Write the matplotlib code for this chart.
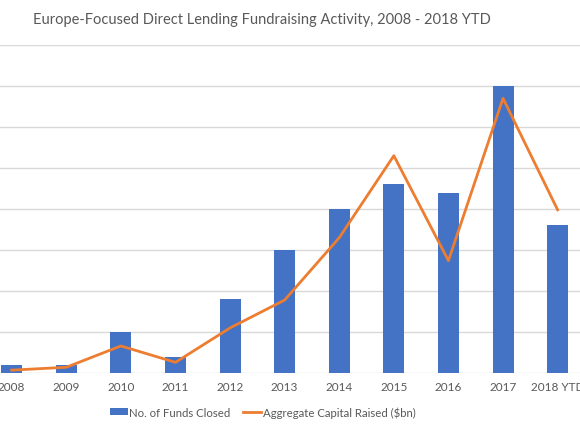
import numpy as np
import matplotlib
matplotlib.use("Agg")
import matplotlib.pyplot as plt

plt.rcParams["font.family"] = ["Lato", "DejaVu Sans"]

years = ["2008", "2009", "2010", "2011", "2012", "2013", "2014",
         "2015", "2016", "2017", "2018 YTD"]
funds_closed = [1, 1, 5, 2, 9, 15, 20, 23, 22, 35, 18]
capital_raised = [0.35, 0.7, 3.3, 1.3, 5.5, 8.9, 16.5, 26.5, 13.7, 33.5, 19.9]

BLUE = "#4472C4"
ORANGE = "#ED7D31"
GREY = "#595959"
GRID = "#D9D9D9"

fig = plt.figure(figsize=(5.8, 4.35), dpi=100)
ax = fig.add_axes([0.0, 0.1402, 1.0, 0.7540])

x = np.arange(len(years))
bars = ax.bar(x, funds_closed, width=0.385, color=BLUE, zorder=2,
              label="No. of Funds Closed")
line, = ax.plot(x, capital_raised, color=ORANGE, linewidth=2, zorder=3,
                label="Aggregate Capital Raised ($bn)")

ax.set_xlim(-0.214, 10.41)
ax.set_ylim(0, 40)
ax.set_yticks(np.arange(0, 41, 5))
ax.yaxis.grid(True, color=GRID, linewidth=1, zorder=0)
ax.tick_params(axis="y", left=False, labelleft=False)
ax.set_xticks(x)
ax.set_xticklabels(years, fontsize=8.5, color=GREY)
ax.tick_params(axis="x", length=0, pad=6)
for s in ax.spines.values():
    s.set_visible(False)

fig.text(0.451, 0.955, "Europe-Focused Direct Lending Fundraising Activity, 2008 - 2018 YTD",
         ha="center", va="center", fontsize=10.5, color=GREY)

fig.legend([bars, line], [bars.get_label(), line.get_label()],
           loc="center", bbox_to_anchor=(0.453, 0.0506), ncol=2, frameon=False,
           fontsize=8.2, labelcolor=GREY, handlelength=1.6, handletextpad=0.1,
           columnspacing=1.1, handleheight=0.6)

fig.savefig("out.png", dpi=100)
